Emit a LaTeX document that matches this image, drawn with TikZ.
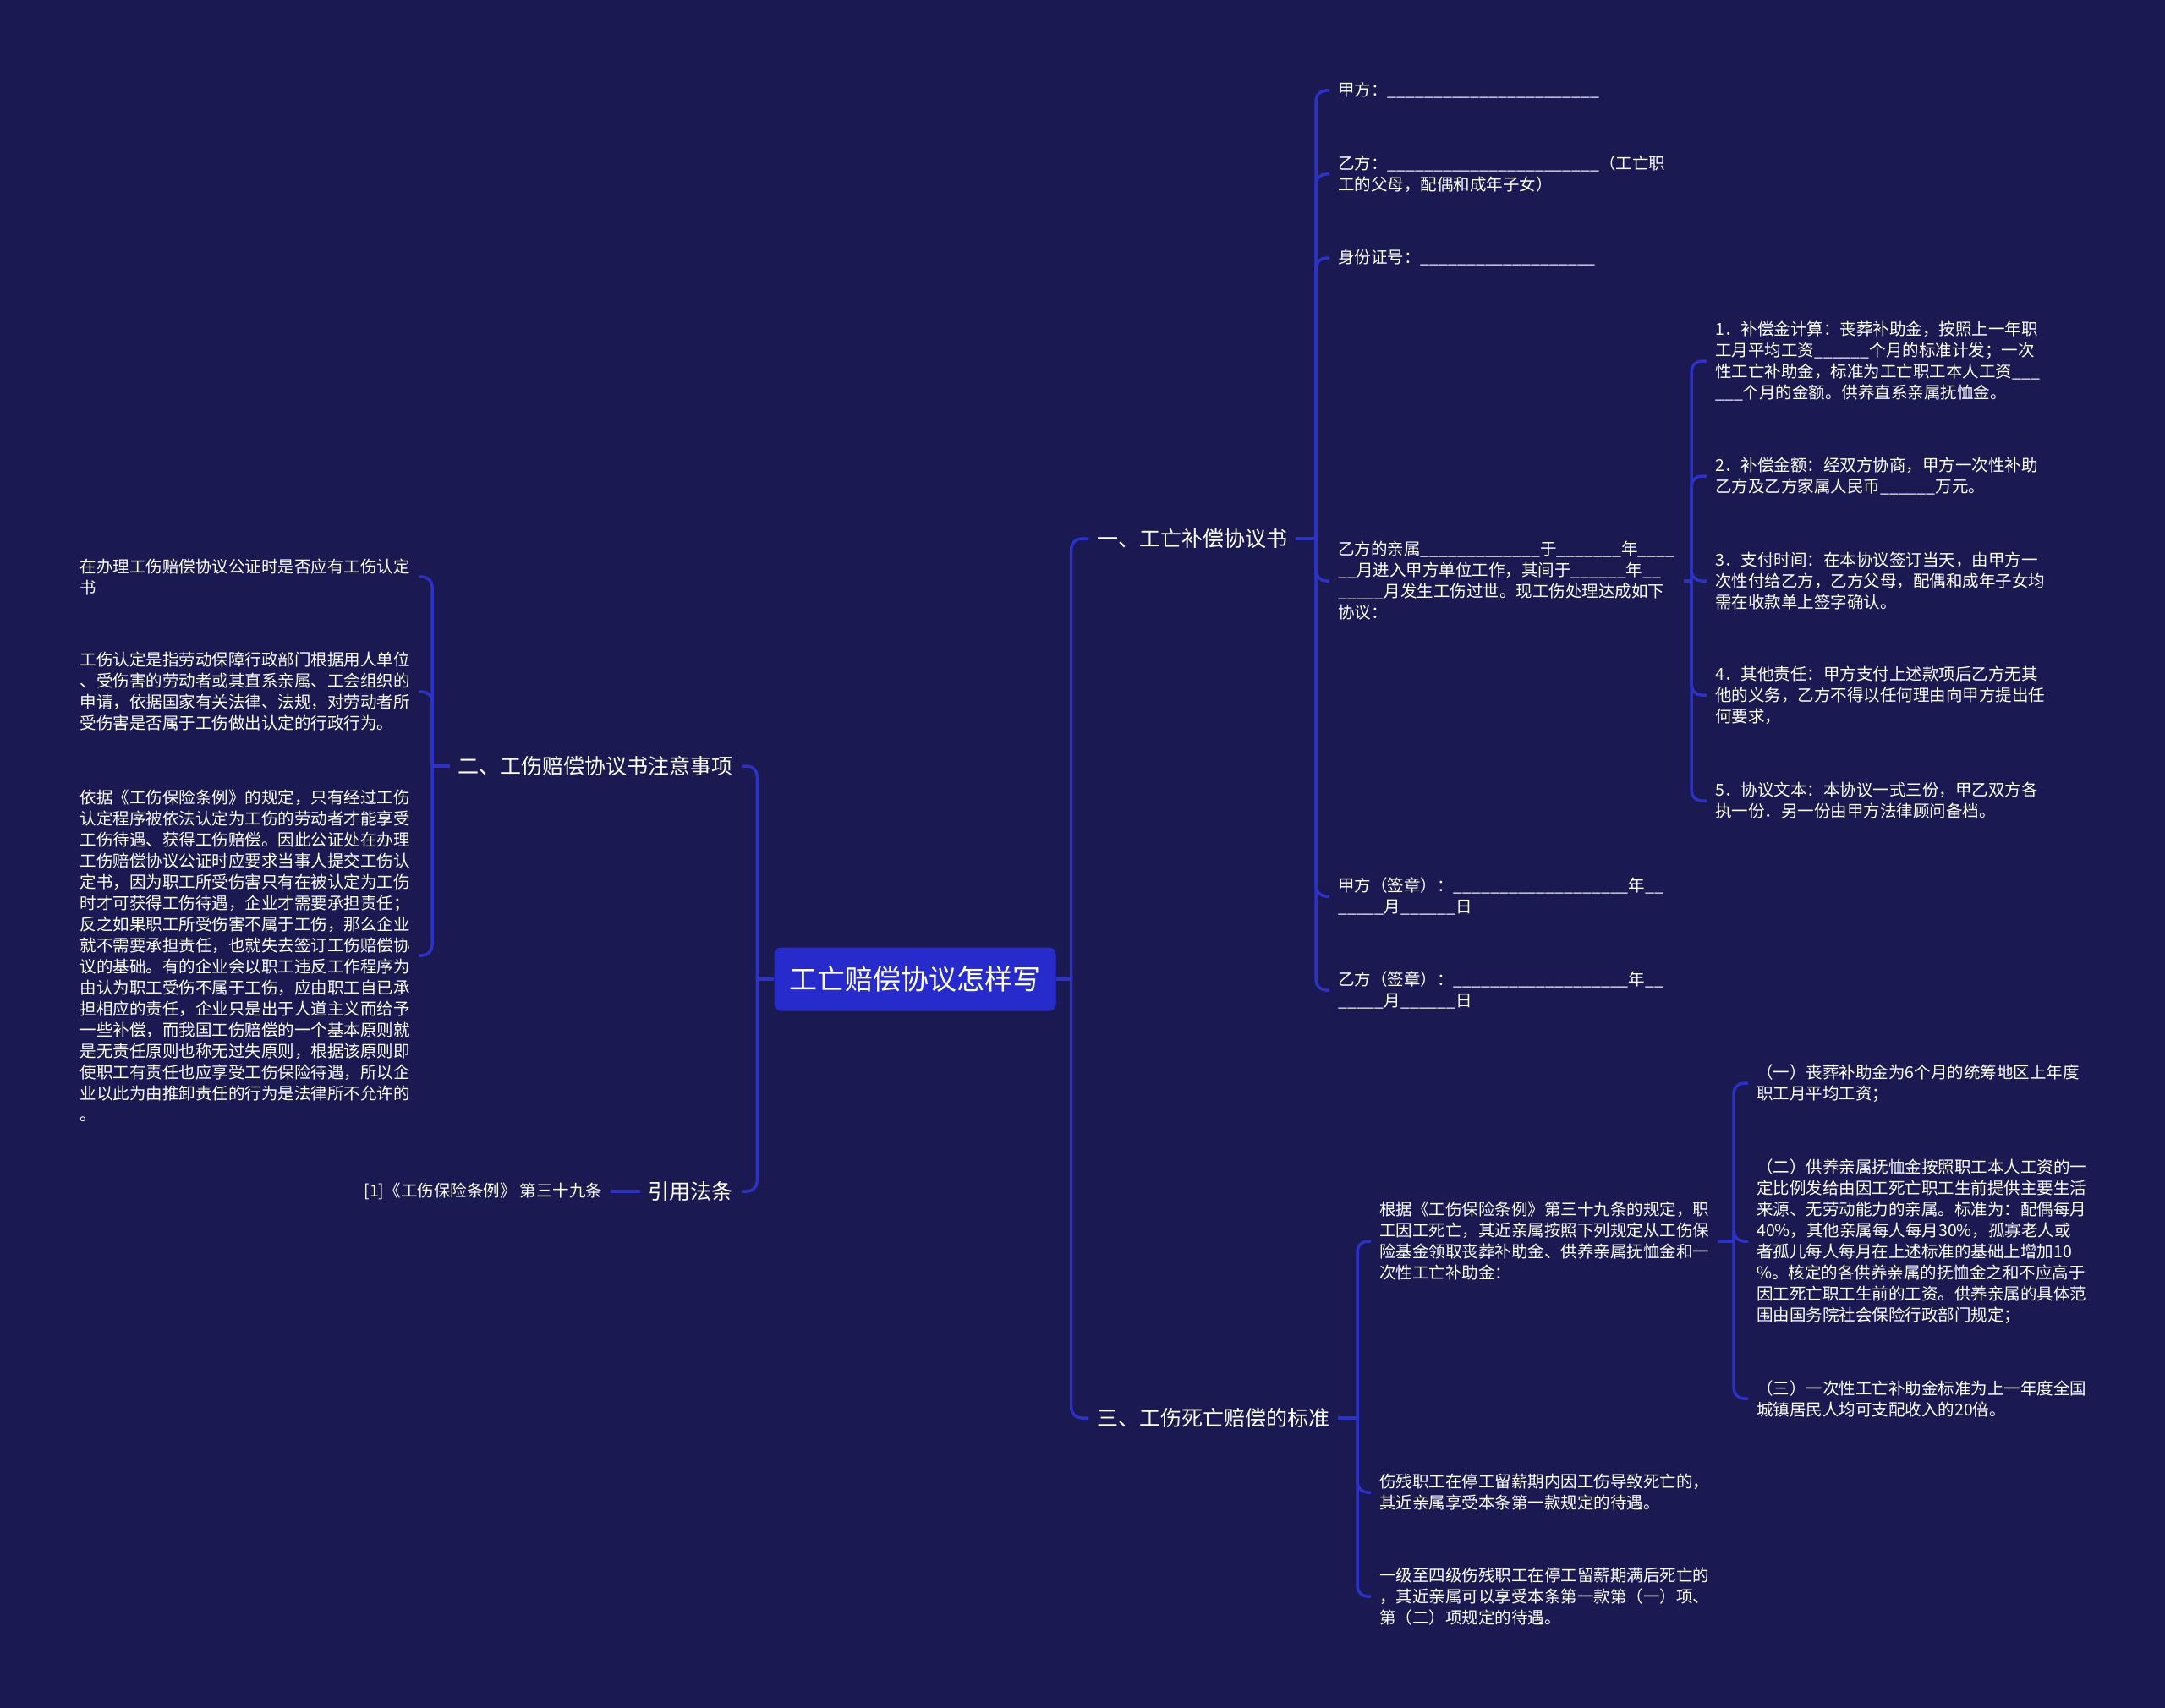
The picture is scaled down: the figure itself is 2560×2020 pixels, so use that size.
\documentclass[tikz,border=0pt]{standalone}
\usepackage{fontspec}
\setmainfont{Noto Sans CJK SC}
\usetikzlibrary{positioning}

\definecolor{bgnavy}{RGB}{27,25,82}
\definecolor{linkblue}{RGB}{44,50,196}
\definecolor{rootblue}{RGB}{40,43,204}

% blank to fill in: a run of underscores
\ExplSyntaxOn
\NewDocumentCommand\us{m}{\prg_replicate:nn{#1}{\textunderscore}}
\ExplSyntaxOff

\begin{document}
\begin{tikzpicture}[x=1pt, y=-1pt]

\tikzset{
  root/.style={
    rectangle, rounded corners=8pt, fill=rootblue, text=white,
    minimum width=333pt, minimum height=75pt,
    font=\fontsize{33}{40}\selectfont
  },
  branch/.style={text=white, inner xsep=10pt, inner ysep=4pt,
    font=\fontsize{25}{30}\selectfont},
  leaf/.style={text=white, align=left, inner xsep=10pt, inner ysep=4pt,
    font=\fontsize{19.5}{25}\selectfont},
  link/.style={draw=linkblue, line width=3.5pt, rounded corners=12pt}
}

\fill[bgnavy] (0,0) rectangle (2560,2020);
\useasboundingbox (0,0) rectangle (2560,2020);

% =========================================================
% Centre and main branches
% =========================================================
\node[root] (root) at (1082,1158) {工亡赔偿协议怎样写};
\node[branch, anchor=west] (b1) at (1287,637) {一、工亡补偿协议书};
\node[branch, anchor=west] (b4) at (1287,1677) {三、工伤死亡赔偿的标准};
\node[branch, anchor=east] (b2) at (877,906) {二、工伤赔偿协议书注意事项};
\node[branch, anchor=east] (b3) at (877,1409) {引用法条};

% =========================================================
% Branch 1: the agreement text
% =========================================================
\node[leaf, anchor=west] (c11) at (1572,107) {甲方：\us{23}};
\node[leaf, anchor=west] (c12) at (1572,206) {乙方：\us{23}（工亡职\\工的父母，配偶和成年子女）};
\node[leaf, anchor=west] (c13) at (1572,305) {身份证号：\us{19}};
\node[leaf, anchor=west] (c14) at (1572,687) {乙方的亲属\us{13}于\us{7}年\us{4}\\\us{2}月进入甲方单位工作，其间于\us{6}年\us{2}\\\us{5}月发生工伤过世。现工伤处理达成如下\\协议：};
\node[leaf, anchor=west] (c15) at (1572,1060) {甲方（签章）：\us{19}年\us{2}\\\us{5}月\us{6}日};
\node[leaf, anchor=west] (c16) at (1572,1171) {乙方（签章）：\us{19}年\us{2}\\\us{5}月\us{6}日};

\node[leaf, anchor=west] (d1) at (2018,427) {1．补偿金计算：丧葬补助金，按照上一年职\\工月平均工资\us{6}个月的标准计发；一次\\性工亡补助金，标准为工亡职工本人工资\us{3}\\\us{3}个月的金额。供养直系亲属抚恤金。};
\node[leaf, anchor=west] (d2) at (2018,563) {2．补偿金额：经双方协商，甲方一次性补助\\乙方及乙方家属人民币\us{6}万元。};
\node[leaf, anchor=west] (d3) at (2018,687) {3．支付时间：在本协议签订当天，由甲方一\\次性付给乙方，乙方父母，配偶和成年子女均\\需在收款单上签字确认。};
\node[leaf, anchor=west] (d4) at (2018,822) {4．其他责任：甲方支付上述款项后乙方无其\\他的义务，乙方不得以任何理由向甲方提出任\\何要求，};
\node[leaf, anchor=west] (d5) at (2018,947) {5．协议文本：本协议一式三份，甲乙双方各\\执一份．另一份由甲方法律顾问备档。};

% =========================================================
% Branch 2: notes (left side)
% =========================================================
\node[leaf, anchor=east] (e1) at (495,682) {在办理工伤赔偿协议公证时是否应有工伤认定\\书};
\node[leaf, anchor=east] (e2) at (495,818) {工伤认定是指劳动保障行政部门根据用人单位\\、受伤害的劳动者或其直系亲属、工会组织的\\申请，依据国家有关法律、法规，对劳动者所\\受伤害是否属于工伤做出认定的行政行为。};
\node[leaf, anchor=east] (e3) at (495,1130) {依据《工伤保险条例》的规定，只有经过工伤\\认定程序被依法认定为工伤的劳动者才能享受\\工伤待遇、获得工伤赔偿。因此公证处在办理\\工伤赔偿协议公证时应要求当事人提交工伤认\\定书，因为职工所受伤害只有在被认定为工伤\\时才可获得工伤待遇，企业才需要承担责任；\\反之如果职工所受伤害不属于工伤，那么企业\\就不需要承担责任，也就失去签订工伤赔偿协\\议的基础。有的企业会以职工违反工作程序为\\由认为职工受伤不属于工伤，应由职工自已承\\担相应的责任，企业只是出于人道主义而给予\\一些补偿，而我国工伤赔偿的一个基本原则就\\是无责任原则也称无过失原则，根据该原则即\\使职工有责任也应享受工伤保险待遇，所以企\\业以此为由推卸责任的行为是法律所不允许的\\。};

\node[leaf, left=35pt of b3, inner xsep=9pt] (f1) {[1]《工伤保险条例》 第三十九条};

% =========================================================
% Branch 3: death compensation standard
% =========================================================
\node[leaf, anchor=west] (g1) at (1621,1468) {根据《工伤保险条例》第三十九条的规定，职\\工因工死亡，其近亲属按照下列规定从工伤保\\险基金领取丧葬补助金、供养亲属抚恤金和一\\次性工亡补助金：};
\node[leaf, anchor=west] (g2) at (1621,1765) {伤残职工在停工留薪期内因工伤导致死亡的，\\其近亲属享受本条第一款规定的待遇。};
\node[leaf, anchor=west] (g3) at (1621,1888) {一级至四级伤残职工在停工留薪期满后死亡的\\，其近亲属可以享受本条第一款第（一）项、\\第（二）项规定的待遇。};

\node[leaf, anchor=west] (h1) at (2067,1281) {（一）丧葬补助金为6个月的统筹地区上年度\\职工月平均工资；};
\node[leaf, anchor=west] (h2) at (2067,1468) {（二）供养亲属抚恤金按照职工本人工资的一\\定比例发给由因工死亡职工生前提供主要生活\\来源、无劳动能力的亲属。标准为：配偶每月\\40\%，其他亲属每人每月30\%，孤寡老人或\\者孤儿每人每月在上述标准的基础上增加10\\\%。核定的各供养亲属的抚恤金之和不应高于\\因工死亡职工生前的工资。供养亲属的具体范\\围由国务院社会保险行政部门规定；};
\node[leaf, anchor=west] (h3) at (2067,1654) {（三）一次性工亡补助金标准为上一年度全国\\城镇居民人均可支配收入的20倍。};

% =========================================================
% Junctions and connectors
% =========================================================
\coordinate (jR)  at ([xshift=18pt]root.east);
\coordinate (jL)  at ([xshift=-20pt]root.west);
\coordinate (j1)  at ([xshift=-16pt]b1.east -| c11.west);
\coordinate (j14) at ([xshift=-18pt]c14.east -| d1.west);
\coordinate (j2)  at ([xshift=16pt]b2.west -| e1.east);
\coordinate (j4)  at ([xshift=-16pt]b4.east -| g1.west);
\coordinate (j41) at ([xshift=-17pt]g1.east -| h1.west);

\draw[link] (root.east) -- (jR);
\draw[link] (jR) |- (b1.west);
\draw[link] (jR) |- (b4.west);
\draw[link] (root.west) -- (jL);
\draw[link] (jL) |- (b2.east);
\draw[link] (jL) |- (b3.east);

\draw[link] (b1.east) -- (j1);
\draw[link] (j1) |- (c11.west);
\draw[link] (j1) |- (c12.west);
\draw[link] (j1) |- (c13.west);
\draw[link] (j1) |- (c14.west);
\draw[link] (j1) |- (c15.west);
\draw[link] (j1) |- (c16.west);

\draw[link] (c14.east) -- (j14);
\draw[link] (j14) |- (d1.west);
\draw[link] (j14) |- (d2.west);
\draw[link] (j14) |- (d3.west);
\draw[link] (j14) |- (d4.west);
\draw[link] (j14) |- (d5.west);

\draw[link] (b2.west) -- (j2);
\draw[link] (j2) |- (e1.east);
\draw[link] (j2) |- (e2.east);
\draw[link] (j2) |- (e3.east);

\draw[link] (f1.east) -- (b3.west);

\draw[link] (b4.east) -- (j4);
\draw[link] (j4) |- (g1.west);
\draw[link] (j4) |- (g2.west);
\draw[link] (j4) |- (g3.west);

\draw[link] (g1.east) -- (j41);
\draw[link] (j41) |- (h1.west);
\draw[link] (j41) |- (h2.west);
\draw[link] (j41) |- (h3.west);

\end{tikzpicture}
\end{document}
